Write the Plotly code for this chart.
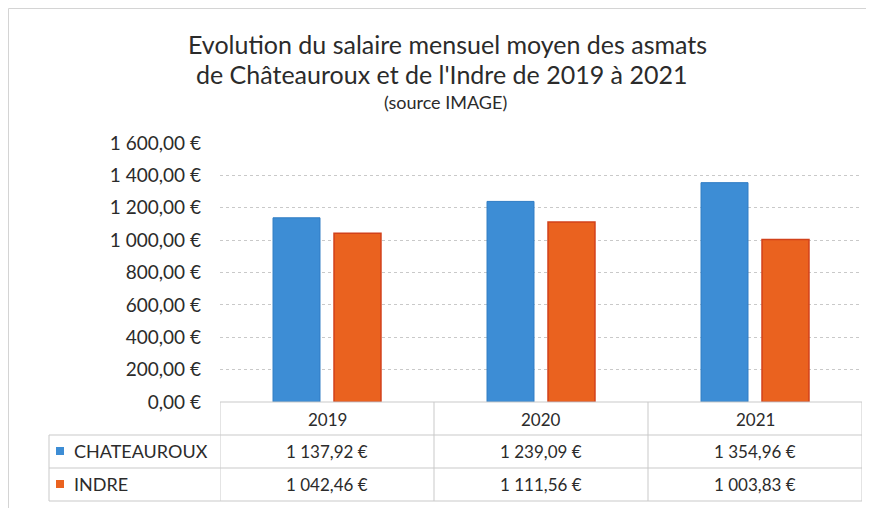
import plotly.graph_objects as go

years = ["2019", "2020", "2021"]
chateauroux = [1137.92, 1239.09, 1354.96]
indre = [1042.46, 1111.56, 1003.83]
series_names = ["CHATEAUROUX", "INDRE"]
y_ticks = [0, 200, 400, 600, 800, 1000, 1200, 1400, 1600]

FONT = "Lato"
BLUE = "#3d8dd5"
BLUE_LINE = "#2f7cc4"
ORANGE = "#ea621f"
ORANGE_LINE = "#d2411a"
GRID = "#c9c9c9"
TXT = "#2b2b2b"

OFF = 8  # page body margin
W, H = 874 - OFF, 508 - OFF
L, R, T, B = 220, 862, 143, 402  # plot area in page pixels


def eur(v):
    s = f"{v:,.2f}"
    ent, dec = s.split(".")
    ent = ent.replace(",", " ")
    return f"{ent},{dec} €"


def px(x):
    return (x - L) / (R - L)


def py(y):
    return (B - y) / (B - T)


fig = go.Figure()
fig.add_trace(go.Bar(x=years, y=chateauroux, name=series_names[0],
                     marker=dict(color=BLUE, line=dict(color=BLUE_LINE, width=1))))
fig.add_trace(go.Bar(x=years, y=indre, name=series_names[1],
                     marker=dict(color=ORANGE, line=dict(color=ORANGE_LINE, width=1.5))))

shapes = []
# outer frame (top and left visible)
shapes.append(dict(type="line", xref="paper", yref="paper",
                   x0=px(8.5), x1=px(874), y0=py(8.5), y1=py(8.5),
                   line=dict(color="#d4d4d4", width=1)))
shapes.append(dict(type="line", xref="paper", yref="paper",
                   x0=px(8.5), x1=px(8.5), y0=py(8.5), y1=py(508),
                   line=dict(color="#d4d4d4", width=1)))
# table horizontal lines
shapes.append(dict(type="line", xref="paper", yref="paper", x0=px(L), x1=px(R),
                   y0=py(B), y1=py(B), line=dict(color=GRID, width=1)))
for yy in (435, 468, 501):
    shapes.append(dict(type="line", xref="paper", yref="paper", x0=px(49), x1=px(R),
                       y0=py(yy), y1=py(yy), line=dict(color=GRID, width=1)))
# table vertical lines
shapes.append(dict(type="line", xref="paper", yref="paper", x0=px(49), x1=px(49),
                   y0=py(435), y1=py(501), line=dict(color=GRID, width=1)))
for i in range(len(years) + 1):
    xv = i - 0.5
    shapes.append(dict(type="line", xref="x", yref="paper", x0=xv, x1=xv,
                       y0=py(B), y1=py(501), line=dict(color=GRID, width=1)))
# legend keys
for yy, col in ((451, BLUE), (484, ORANGE)):
    shapes.append(dict(type="rect", xref="paper", yref="paper",
                       x0=px(56), x1=px(64), y0=py(yy + 4), y1=py(yy - 4),
                       fillcolor=col, line=dict(width=0)))


def text(t, x, y, size, xref="paper", xanchor="center"):
    return dict(text=t, x=x, y=py(y), xref=xref, yref="paper", showarrow=False,
                xanchor=xanchor, yanchor="middle",
                font=dict(family=FONT, size=size, color=TXT))


ann = []
ann.append(text("Evolution du salaire mensuel moyen des asmats", px(447), 44, 25))
ann.append(text("de Châteauroux et de l'Indre de 2019 à 2021", px(441), 74, 25))
ann.append(text("(source IMAGE)", px(445), 102, 18))
for i, yr in enumerate(years):
    ann.append(text(yr, i, 419, 17, xref="x"))
    ann.append(text(eur(chateauroux[i]), i, 451, 17, xref="x"))
    ann.append(text(eur(indre[i]), i, 484, 17, xref="x"))
for yy, name in ((451, series_names[0]), (484, series_names[1])):
    ann.append(text(name, px(72), yy, 18, xanchor="left"))

fig.update_layout(
    width=W, height=H,
    margin=dict(l=L - OFF, r=W - (R - OFF), t=T - OFF, b=H - (B - OFF), pad=0),
    paper_bgcolor="white", plot_bgcolor="white",
    barmode="group", bargap=0.43, bargroupgap=0.23,
    showlegend=False,
    shapes=shapes, annotations=ann,
    font=dict(family=FONT, color=TXT),
)
fig.update_xaxes(range=[-0.5, 2.5], showticklabels=False, showgrid=False,
                 zeroline=False, showline=False, ticks="")
fig.update_yaxes(range=[0, 1600], tickvals=y_ticks, ticktext=[eur(v) for v in y_ticks],
                 showgrid=True, gridcolor=GRID, griddash="dot", gridwidth=1,
                 zeroline=False, showline=False, ticks="", ticklabelstandoff=18,
                 tickfont=dict(family=FONT, size=19, color=TXT))

fig.write_html("out.html")
